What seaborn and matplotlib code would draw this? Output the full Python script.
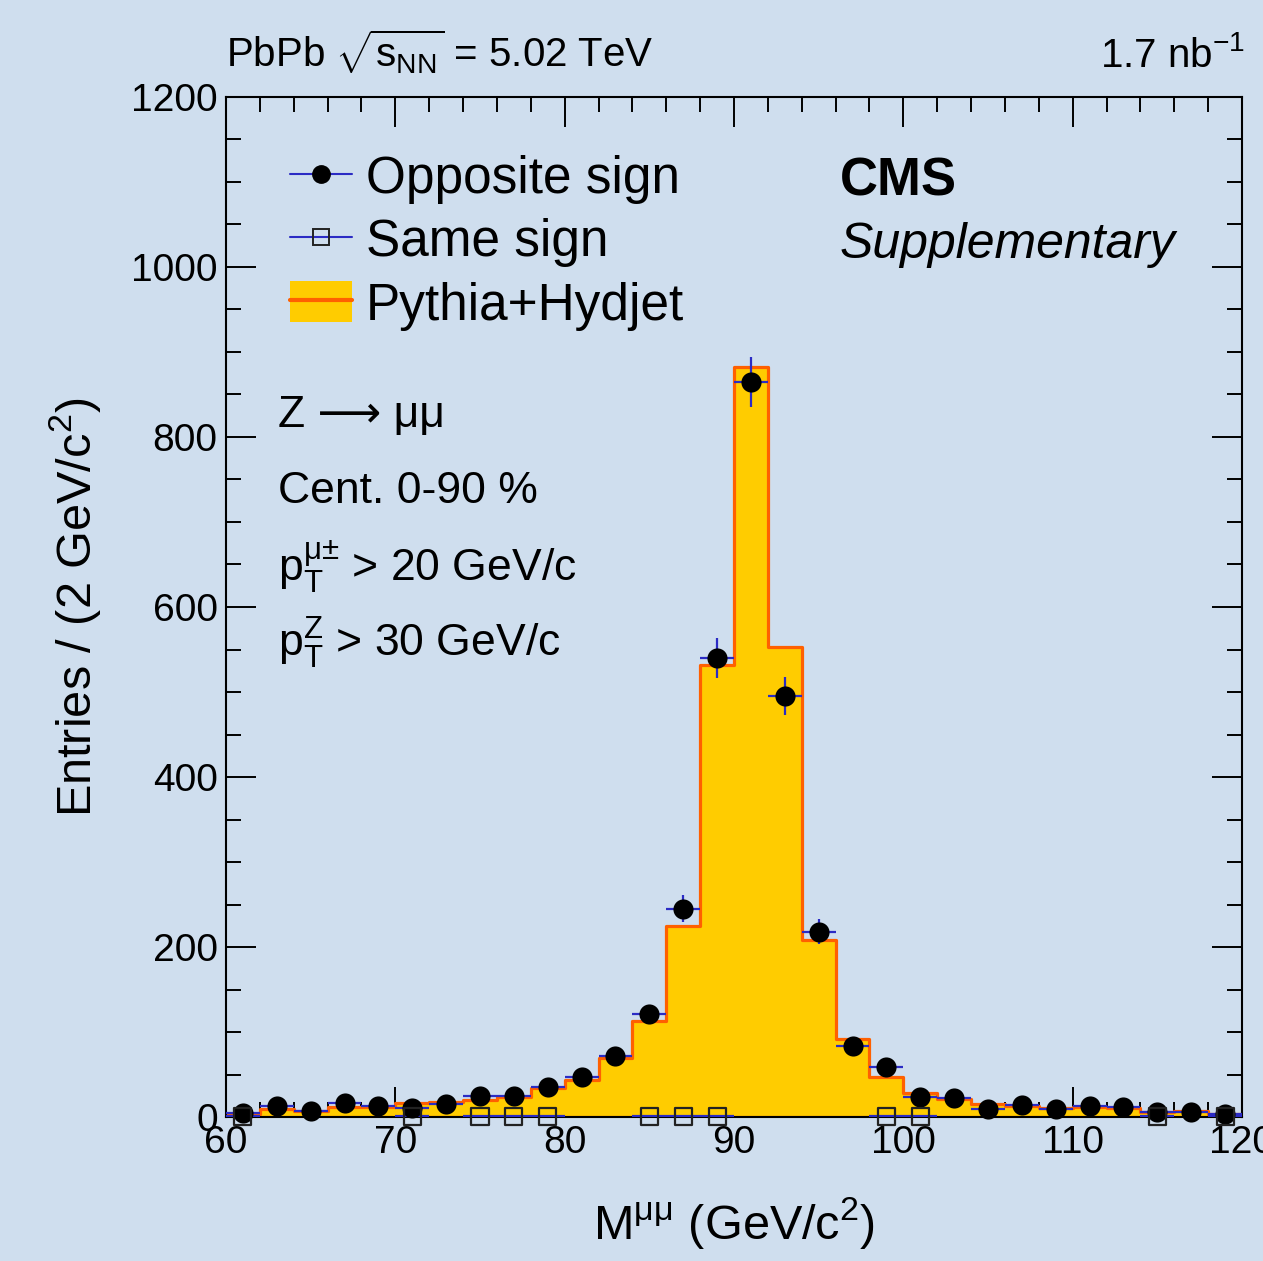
import numpy as np
import pandas as pd
import matplotlib
matplotlib.use("Agg")
import matplotlib.pyplot as plt
import seaborn as sns
from matplotlib.lines import Line2D
from matplotlib.patches import Patch
from matplotlib.legend_handler import HandlerTuple
from matplotlib.ticker import MultipleLocator

# ---------------- data ----------------
bin_edges = list(range(60, 122, 2))          # 2 GeV bins, 60-120
bin_centers = [(a + b) / 2 for a, b in zip(bin_edges[:-1], bin_edges[1:])]

opposite_sign = [5, 13, 7, 17, 13, 11, 15, 25, 25, 35,
                 47, 72, 121, 245, 540, 865, 495, 218, 83, 59,
                 24, 22, 10, 14, 10, 13, 12, 6, 6, 3]
pythia_hydjet = [4, 9, 7, 12, 12, 16, 18, 20, 23, 34,
                 44, 69, 113, 225, 532, 882, 553, 208, 92, 47,
                 28, 21, 15, 13, 10, 12, 10, 6, 7, 4]
same_sign = [1, 0, 0, 0, 0, 1, 0, 1, 1, 1,
             0, 0, 1, 1, 1, 0, 0, 0, 0, 1,
             1, 0, 0, 0, 0, 0, 0, 1, 0, 1]

x_ticks = [60, 70, 80, 90, 100, 110, 120]
y_ticks = [0, 200, 400, 600, 800, 1000, 1200]

# ---------------- style ----------------
BG = "#cfdeee"
BLUE = "#2b2bc4"
YELLOW = "#ffcc00"
ORANGE = "#ff6000"

sns.set_theme(style="ticks")
plt.rcParams["font.family"] = ["Liberation Sans", "DejaVu Sans"]
plt.rcParams["mathtext.fontset"] = "custom"
plt.rcParams["mathtext.rm"] = "Liberation Sans"
plt.rcParams["mathtext.it"] = "Liberation Sans:italic"
plt.rcParams["mathtext.bf"] = "Liberation Sans:bold"
plt.rcParams["figure.facecolor"] = BG
plt.rcParams["axes.facecolor"] = BG
plt.rcParams["savefig.facecolor"] = BG
for k in ["text.color", "axes.labelcolor", "xtick.color", "ytick.color",
          "xtick.labelcolor", "ytick.labelcolor"]:
    plt.rcParams[k] = "black"

W, H = 1263, 1261
fig = plt.figure(figsize=(W / 100, H / 100), dpi=100)
L, R, B, T = 226, 1242, 1117, 97
ax = fig.add_axes([L / W, 1 - B / H, (R - L) / W, (B - T) / H])

df = pd.DataFrame({"mass": bin_centers, "os": opposite_sign,
                   "mc": pythia_hydjet, "ss": same_sign})

# MC histogram
sns.histplot(data=df, x="mass", weights="mc", bins=bin_edges, element="step",
             fill=True, color=YELLOW, facecolor=YELLOW, edgecolor=ORANGE,
             linewidth=2.3, alpha=1, ax=ax, zorder=1)

# Opposite-sign data
os_err = np.sqrt(df["os"].to_numpy())
ax.errorbar(df["mass"], df["os"], xerr=1.0, yerr=os_err, fmt="none",
            ecolor=BLUE, elinewidth=1.6, capsize=0, zorder=3)
sns.scatterplot(data=df, x="mass", y="os", color="black", marker="o", s=210,
                edgecolor="black", linewidth=0, ax=ax, zorder=5, clip_on=False,
                legend=False)

# Same-sign data
ss = df[df["ss"] > 0]
ax.errorbar(ss["mass"], ss["ss"], xerr=1.0, yerr=np.sqrt(ss["ss"].to_numpy()),
            fmt="none", ecolor=BLUE, elinewidth=1.6, capsize=0, zorder=3)
sns.scatterplot(data=ss, x="mass", y="ss", marker="s", s=150,
                facecolor="none", edgecolor="#222222", linewidth=1.6,
                ax=ax, zorder=5, clip_on=False, legend=False)

# axes
ax.set_xlim(60, 120)
ax.set_ylim(0, 1200)
ax.set_xticks(x_ticks)
ax.set_yticks(y_ticks)
ax.xaxis.set_minor_locator(MultipleLocator(2))
ax.yaxis.set_minor_locator(MultipleLocator(50))
ax.tick_params(which="both", direction="in", top=True, right=True,
               color="black", width=1.4)
ax.tick_params(which="major", length=21.5, labelsize=28, pad=6)
ax.tick_params(which="minor", length=10.5)
for sp in ax.spines.values():
    sp.set_visible(True)
    sp.set_color("black")
    sp.set_linewidth(1.5)
ax.grid(False)

ax.set_xlabel(r"M$^{\mathregular{μμ}}$ (GeV/c$^{2}$)", fontsize=35)
ax.set_ylabel(r"Entries / (2 GeV/c$^{2}$)", fontsize=35)
ax.xaxis.set_label_coords(0.5, -(1195 - B) / (B - T))
ax.yaxis.set_label_coords(-(L - 103) / (R - L), 0.5)

# legend
h_os = Line2D([0], [0], color=BLUE, lw=1.5, marker="o", markersize=12.5,
              markerfacecolor="black", markeredgecolor="black")
h_ss = Line2D([0], [0], color=BLUE, lw=1.5, marker="s", markersize=11.5,
              markerfacecolor="none", markeredgecolor="#222222", markeredgewidth=1.4)
h_mc = (Patch(facecolor=YELLOW, edgecolor="none"), Line2D([0], [0], color=ORANGE, lw=3))
fig.legend([h_os, h_ss, h_mc], ["Opposite sign", "Same sign", "Pythia+Hydjet"],
           handler_map={tuple: HandlerTuple(ndivide=1, pad=0)},
           loc="upper left", bbox_to_anchor=(290 / W, 1 - 155 / H),
           frameon=False, fontsize=37, handlelength=1.2, handleheight=0.85,
           handletextpad=0.28, labelspacing=0.27, borderpad=0, borderaxespad=0)

# texts
fig.text(L / W, 1 - 67 / H,
         r"PbPb $\sqrt{\mathregular{s}_{\mathregular{NN}}}$ = 5.02 TeV",
         fontsize=29, ha="left", va="baseline")
fig.text(1245 / W, 1 - 67 / H, r"1.7 nb$^{\mathregular{-1}}$",
         fontsize=29, ha="right", va="baseline")
fig.text(840 / W, 1 - 195 / H, "CMS", fontsize=38, fontweight="bold",
         ha="left", va="baseline")
fig.text(840 / W, 1 - 258 / H, "Supplementary", fontsize=36, fontstyle="italic",
         ha="left", va="baseline")

fig.text(278 / W, 1 - 427 / H, "Z ⟶ μμ", fontsize=32, ha="left",
         va="baseline", family=["Liberation Sans", "DejaVu Sans"])
fig.text(278 / W, 1 - 503 / H, "Cent. 0-90 %", fontsize=32, ha="left", va="baseline")
fig.text(278 / W, 1 - 581 / H, r"p$_{\mathregular{T}}^{\mathregular{μ±}}$ > 20 GeV/c",
         fontsize=32, ha="left", va="baseline")
fig.text(278 / W, 1 - 657 / H, r"p$_{\mathregular{T}}^{\mathregular{Z}}$ > 30 GeV/c",
         fontsize=32, ha="left", va="baseline")

fig.savefig("out.png", dpi=100, facecolor=BG)
